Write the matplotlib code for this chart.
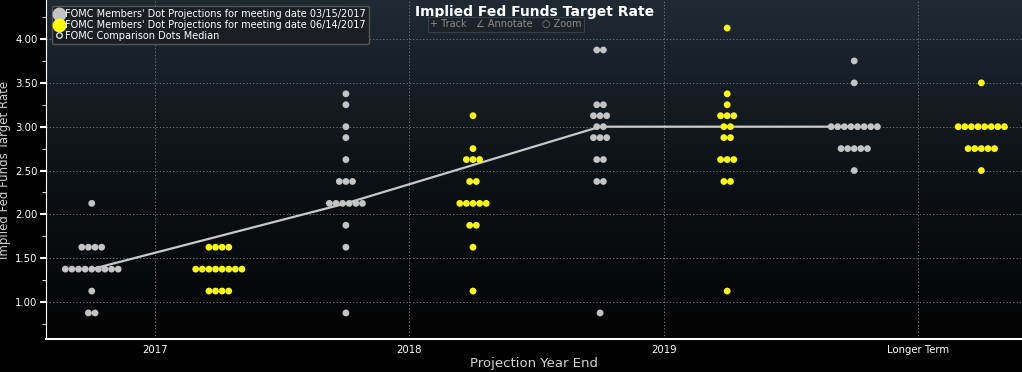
import numpy as np
import matplotlib
matplotlib.use("Agg")
from matplotlib import pyplot as plt
from matplotlib.colors import LinearSegmentedColormap
from matplotlib.lines import Line2D

# dot plot data: (rate, number of participants)
years = ["2017", "2018", "2019", "Longer Term"]

mar_2017 = [(2.125, 1), (1.625, 4), (1.375, 9), (1.125, 1), (0.875, 2)]
mar_2018 = [(3.375, 1), (3.25, 1), (3.0, 1), (2.875, 1), (2.625, 1), (2.375, 3),
            (2.125, 6), (1.875, 1), (1.625, 1), (0.875, 1)]
mar_2019 = [(3.875, 2), (3.25, 2), (3.125, 3), (3.0, 2), (2.875, 3), (2.625, 2),
            (2.375, 2), (0.875, 1)]
mar_lt = [(3.75, 1), (3.5, 1), (3.0, 8), (2.75, 5), (2.5, 1)]

jun_2017 = [(1.625, 4), (1.375, 8), (1.125, 4)]
jun_2018 = [(3.125, 1), (2.75, 1), (2.625, 3), (2.375, 2), (2.125, 5), (1.875, 2),
            (1.625, 1), (1.125, 1)]
jun_2019 = [(4.125, 1), (3.375, 1), (3.25, 1), (3.125, 3), (3.0, 2), (2.875, 2),
            (2.625, 3), (2.375, 2), (1.125, 1)]
jun_lt = [(3.5, 1), (3.0, 8), (2.75, 5), (2.5, 1)]

mar_groups = [mar_2017, mar_2018, mar_2019, mar_lt]
jun_groups = [jun_2017, jun_2018, jun_2019, jun_lt]

gray = "#c4c4c4"
yellow = "#ffff00"
step = 0.026  # horizontal spacing between dots in one row


def dot_xy(groups, offset):
    xs, ys = [], []
    for i, grp in enumerate(groups):
        for rate, n in grp:
            for k in range(n):
                xs.append(i + offset + (k - (n - 1) / 2) * step)
                ys.append(rate)
    return xs, ys


def median(grp):
    vals = []
    for rate, n in grp:
        vals += [rate] * n
    return np.median(vals)


fig = plt.figure(figsize=(10.22, 3.72), dpi=100, facecolor="black")
ax = fig.add_axes([46 / 1022, 1 - 339 / 372, 1 - 46 / 1022, 339 / 372])
ax.set_facecolor("black")

# vertical gradient background
cmap = LinearSegmentedColormap.from_list("bg", ["#030303", "#0d1216", "#1f2a34"])
grad = np.linspace(0, 1, 256)[:, None]
ax.imshow(grad, extent=[0, 1, 0, 1], transform=ax.transAxes, cmap=cmap,
          origin="lower", aspect="auto", zorder=0)

ax.set_xlim(-0.43, 3.41)
ax.set_ylim(0.578, 4.445)

# median line of the March dots
med = [median(g) for g in mar_groups]
ax.plot(np.arange(4) - 0.25, med, color="#c8c8c8", lw=1.6, zorder=2)

x, y = dot_xy(mar_groups, -0.25)
ax.scatter(x, y, s=24, color=gray, edgecolors="none", zorder=3)
x, y = dot_xy(jun_groups, 0.25)
ax.scatter(x, y, s=24, color=yellow, edgecolors="none", zorder=3)

ax.set_xticks(range(4))
ax.set_xticklabels(years)
ax.set_yticks(np.arange(1.0, 4.01, 0.5))
ax.set_yticklabels(["%.2f" % v for v in np.arange(1.0, 4.01, 0.5)])
ax.set_yticks(np.arange(0.75, 4.45, 0.25), minor=True)
ax.tick_params(axis="both", colors="white", labelsize=7.3, direction="out")
ax.tick_params(axis="y", which="major", length=4, width=1.5, pad=2)
ax.tick_params(axis="y", which="minor", length=3, colors="white")
ax.tick_params(axis="x", length=0, pad=4)
ax.grid(True, color="#7f868c", linestyle=(0, (1.5, 2.5)), linewidth=0.6, zorder=1)
for s in ["top", "right"]:
    ax.spines[s].set_visible(False)
ax.spines["left"].set_color("white")
ax.spines["bottom"].set_color("white")
ax.spines["bottom"].set_linewidth(1.5)

ax.set_xlabel("Projection Year End", color="#d0d0d0", fontsize=9.5, labelpad=2)
ax.set_ylabel("Implied Fed Funds Target Rate", color="#d0d0d0", fontsize=8.5)
ax.yaxis.set_label_coords(-35 / 976, 0.5)

handles = [
    Line2D([], [], marker="o", ls="none", color=gray, markersize=9),
    Line2D([], [], marker="o", ls="none", color=yellow, markersize=9),
    Line2D([], [], marker="o", ls="none", mfc="none", mec="#dddddd", markersize=4),
]
labels = ["FOMC Members' Dot Projections for meeting date 03/15/2017",
          "FOMC Members' Dot Projections for meeting date 06/14/2017",
          "FOMC Comparison Dots Median"]
leg = ax.legend(handles, labels, loc="upper left", bbox_to_anchor=(0.001, 0.998),
                fontsize=7, frameon=True, facecolor="#1b1f23", edgecolor="#555555",
                handlelength=0.8, handletextpad=0.2, borderpad=0.35, labelspacing=0.1,
                framealpha=1)
for t in leg.get_texts():
    t.set_color("white")
leg.set_zorder(5)

fig.text(0.523, 0.968, "Implied Fed Funds Target Rate", color="white", fontsize=10,
         fontweight="bold", ha="center", va="center", zorder=6)
fig.text(0.495, 0.935, "+ Track   \u2220 Annotate   \u25cb Zoom", color="#8c8c8c",
         fontsize=7, ha="center", va="center", zorder=6,
         bbox=dict(boxstyle="square,pad=0.25", fc="#1c2229", ec="#3a3f44", lw=0.8))

fig.savefig("out.png", dpi=100, facecolor="black")
